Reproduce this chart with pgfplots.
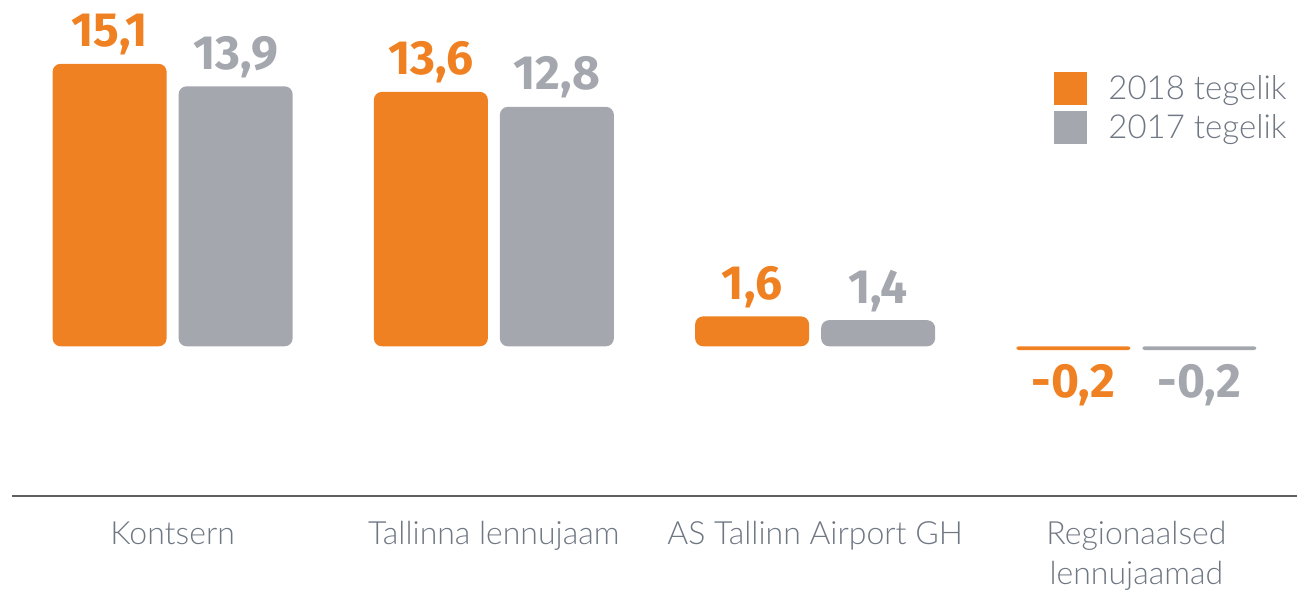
\documentclass[border=0pt]{standalone}
\usepackage{fontspec}
\usepackage{pgfplots}
\pgfplotsset{compat=1.18}
\setmainfont{Lato}
\newfontfamily\lightfont{Lato Light}
\newfontfamily\numfont{Fira Sans}

\definecolor{barorange}{HTML}{F08122}
\definecolor{bargray}{HTML}{A4A8AE}
\definecolor{labelgray}{HTML}{6F7783}
\definecolor{gridgray}{HTML}{D5D7DA}
\definecolor{axisgray}{HTML}{5F5F5F}

\begin{document}
\begin{tikzpicture}
  \begin{axis}[name=ax,
    scale only axis, width=642.5pt, height=224.5pt,
    xmin=-0.5, xmax=3.5, ymin=-8, ymax=16,
    ybar, bar width=57pt,
    axis y line=none, axis x line*=bottom,
    x axis line style={axisgray, line width=0.8pt, -},
    ytick={0,8,16}, yticklabels={},
    ymajorgrids, grid style={gridgray, line width=1.2pt},
    xtick={0,1,2,3}, major tick length=0pt,
    xticklabels={Kontsern, Tallinna lennujaam, AS Tallinn Airport GH, {Regionaalsed\\lennujaamad}},
    xticklabel style={align=center, text=labelgray, inner sep=0pt, yshift=-12.5pt,
      font=\lightfont\fontsize{16}{20}\selectfont},
    nodes near coords={\pgfmathprintnumber[fixed, fixed zerofill, precision=1, use comma, assume math mode=true]{\pgfplotspointmeta}},
    every node near coord/.append style={font=\numfont\bfseries\fontsize{24}{28}\selectfont, inner xsep=0pt, inner ysep=4pt},
    legend cell align=left,
    legend image code/.code={\fill[#1, sharp corners] (0pt,-8.25pt) rectangle (16.5pt,8.25pt); \path (27pt,0pt);},
    legend style={at={(rel axis cs:1,1)}, anchor=north east, xshift=-5pt, yshift=-12.5pt,
      draw=none, fill=none, inner sep=0pt, row sep=3pt,
      nodes={inner sep=0pt, text=labelgray, font=\lightfont\fontsize{16.5}{19}\selectfont}},
  ]
    % positive values
    \addplot[fill=barorange, draw=none, rounded corners=4pt, bar shift=-31.5pt,
      every node near coord/.append style={text=barorange}]
      coordinates {(0,15.1) (1,13.6) (2,1.6)};
    \addplot[fill=bargray, draw=none, rounded corners=4pt, bar shift=31.5pt,
      every node near coord/.append style={text=bargray}]
      coordinates {(0,13.9) (1,12.8) (2,1.4)};
    % negative values
    \addplot[fill=barorange, draw=none, rounded corners=1.2pt, bar shift=-31.5pt, forget plot,
      every node near coord/.append style={text=barorange, inner ysep=7pt}]
      coordinates {(3,-0.2)};
    \addplot[fill=bargray, draw=none, rounded corners=1.2pt, bar shift=31.5pt, forget plot,
      every node near coord/.append style={text=bargray, inner ysep=7pt}]
      coordinates {(3,-0.2)};
    \legend{2018 tegelik, 2017 tegelik}
  \end{axis}
  \pgfresetboundingbox
  \path[use as bounding box] ([xshift=-6pt,yshift=-48pt]ax.south west) rectangle ([yshift=23.5pt]ax.north east);
\end{tikzpicture}
\end{document}
